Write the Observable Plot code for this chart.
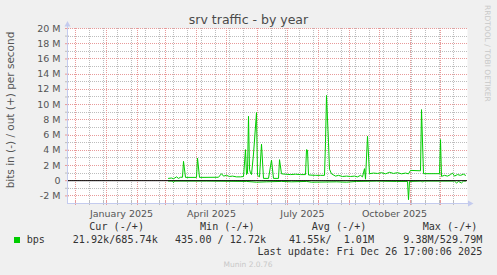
<!DOCTYPE html>
<html><head><meta charset="utf-8">
<script src="https://cdn.jsdelivr.net/npm/d3@7"></script>
<script src="https://cdn.jsdelivr.net/npm/@observablehq/plot@0.6"></script>
<style>
html,body{margin:0;padding:0;background:#f0f0f0;overflow:hidden;}
#chart{position:relative;width:497px;height:275px;}
svg text{white-space:pre;}
</style></head><body><div id="chart"></div>
<script>
// ---- data (values in millions of bits per second) ----
const outDates = ["2025-03-04","2025-03-07","2025-03-09","2025-03-12","2025-03-14","2025-03-16","2025-03-18","2025-03-19","2025-03-21",
"2025-04-01","2025-04-02","2025-04-04","2025-04-23","2025-04-26","2025-04-28","2025-05-01","2025-05-04","2025-05-07","2025-05-11",
"2025-05-15","2025-05-18","2025-05-20","2025-05-21","2025-05-22","2025-05-23","2025-05-24","2025-05-25","2025-05-26","2025-05-28","2025-05-31",
"2025-06-01","2025-06-03","2025-06-05","2025-06-07","2025-06-12","2025-06-15","2025-06-17","2025-06-22","2025-06-23","2025-06-25",
"2025-06-29","2025-07-04","2025-07-09","2025-07-14","2025-07-19","2025-07-20","2025-07-21","2025-07-22","2025-07-29","2025-08-03",
"2025-08-07","2025-08-08","2025-08-09","2025-08-11","2025-08-12","2025-08-14","2025-08-18","2025-08-21","2025-08-25","2025-08-29",
"2025-09-02","2025-09-06","2025-09-09","2025-09-12","2025-09-14","2025-09-16","2025-09-17","2025-09-19","2025-09-21","2025-09-25",
"2025-09-29","2025-10-03","2025-10-07","2025-10-11","2025-10-15","2025-10-19","2025-10-23","2025-10-27","2025-10-30","2025-11-01",
"2025-11-11","2025-11-12","2025-11-14","2025-11-30","2025-12-01","2025-12-02","2025-12-05","2025-12-08","2025-12-11","2025-12-13",
"2025-12-15","2025-12-18","2025-12-21","2025-12-24","2025-12-26"];
const outBits = [0.30,0.35,0.25,0.50,0.30,0.45,0.45,2.54,0.43,
0.43,2.97,0.43,0.45,0.92,0.60,0.70,0.55,0.60,0.50,
0.50,0.55,4.08,0.80,1.00,8.46,1.50,1.00,0.80,3.50,8.95,
0.70,0.50,4.80,0.30,0.30,2.70,0.30,0.30,2.76,0.90,
0.85,0.80,0.85,0.80,0.80,4.08,4.00,0.75,0.70,0.70,
0.70,5.00,11.20,5.00,1.50,0.90,0.60,0.70,0.55,0.60,
0.55,0.60,0.50,0.70,0.50,1.58,0.20,5.83,0.92,1.00,
0.95,1.05,0.90,1.10,0.95,1.05,0.90,1.00,0.90,1.35,
1.30,9.34,0.92,0.92,5.40,0.57,0.70,0.60,0.80,1.00,
0.60,0.80,0.70,0.85,0.70];
const inDates = ["2025-03-04","2025-03-08","2025-03-09","2025-03-10","2025-04-11","2025-05-21","2025-05-31","2025-06-10","2025-06-25",
"2025-07-05","2025-07-20","2025-07-25","2025-08-19","2025-08-29","2025-09-08","2025-09-28","2025-10-18","2025-10-29","2025-10-30",
"2025-10-31","2025-11-12","2025-11-13","2025-11-14","2025-12-15","2025-12-17","2025-12-19","2025-12-22","2025-12-24","2025-12-26"];
const inBits = [-0.05,-0.05,-0.25,-0.05,-0.05,-0.10,-0.20,-0.15,-0.10,
-0.15,-0.10,-0.20,-0.15,-0.20,-0.10,-0.05,-0.10,-0.10,-2.50,
-0.10,-0.05,-0.20,-0.05,-0.05,-0.30,-0.10,-0.30,-0.05,-0.05];
const yMajorTicks = [-2,0,2,4,6,8,10,12,14,16,18,20];
const yMinorTicks = [-1,1,3,5,7,9,11,13,15,17,19];
const xLabels = ["January 2025","April 2025","July 2025","October 2025"];
const xLabelDates = ["2025-01-16","2025-04-16","2025-07-16","2025-10-16"];
const legendHeaders = ["Cur (-/+)","Min (-/+)","Avg (-/+)","Max (-/+)"];
const legendValues = ["21.92k/685.74k","435.00 / 12.72k","41.55k/  1.01M","9.38M/529.79M"];
const seriesName = "bps";
const titleText = "srv traffic - by year";
const yLabel = "bits in (-) / out (+) per second";
const lastUpdate = "Last update: Fri Dec 26 17:00:06 2025";
const footer = "Munin 2.0.76";
const vendor = "RRDTOOL / TOBI OETIKER";

// ---- chart ----
const parse = s => new Date(s + "T00:00:00Z");
const outData = outDates.map((d, i) => ({date: parse(d), v: outBits[i]}));
const inData = inDates.map((d, i) => ({date: parse(d), v: inBits[i]}));
const x0 = parse("2024-11-23"), x1 = parse("2025-12-28");
const monthStarts = d3.utcMonth.range(parse("2024-12-01"), x1);
const minorDates = d3.utcDay.range(parse("2024-12-01"), x1, 14);
const dayMs = 86400000;
const GREEN = "#00cc00", GRID = "#bdbdbd", MGRID = "#e89a9a", AXIS = "#c4cbee";
const pxM = 23 / 175; // M per pixel
const dashV = {strokeDasharray: "1 1", shapeRendering: "crispEdges"};
const dashH = {strokeDasharray: "1 1", strokeDashoffset: 1, shapeRendering: "crispEdges"};

const svg = Plot.plot({
  width: 497, height: 275,
  marginLeft: 67, marginRight: 30, marginTop: 28, marginBottom: 72,
  style: {background: "#f0f0f0", fontFamily: "DejaVu Sans", overflow: "visible"},
  x: {type: "utc", domain: [x0, x1], axis: null},
  y: {domain: [-3, 20], axis: null},
  marks: [
    Plot.frame({fill: "white", stroke: null}),
    Plot.ruleX(minorDates, {stroke: GRID, ...dashV}),
    Plot.ruleY(yMinorTicks, {y: d => d, stroke: GRID, ...dashH}),
    Plot.ruleX(monthStarts, {stroke: MGRID, ...dashV}),
    Plot.ruleY(yMajorTicks, {y: d => d, stroke: MGRID, ...dashH}),
    // tick marks on axes
    Plot.ruleX(minorDates, {y1: -3 + 2 * pxM, y2: -3 - 2 * pxM, stroke: GRID}),
    Plot.ruleX(monthStarts, {y1: -3 + 2 * pxM, y2: -3 - 2 * pxM, stroke: MGRID}),
    Plot.ruleY(yMinorTicks, {y: d => d, x1: new Date(+x0 - 2 * dayMs), x2: new Date(+x0 + 2 * dayMs), stroke: GRID}),
    Plot.ruleY(yMajorTicks, {y: d => d, x1: new Date(+x0 - 2 * dayMs), x2: new Date(+x0 + 2 * dayMs), stroke: MGRID}),
    Plot.line(inData, {x: "date", y: "v", stroke: GREEN, strokeWidth: 1}),
    Plot.line(outData, {x: "date", y: "v", stroke: GREEN, strokeWidth: 1}),
    Plot.ruleY([0], {stroke: "#000"}),
    Plot.text(yMajorTicks, {x: x0, y: d => d, text: d => d === 0 ? "0" : `${d} M`, textAnchor: "end", dx: -7, fontSize: 9.5, fill: "#555", lineAnchor: "middle"}),
    Plot.text(xLabels, {x: (d, i) => parse(xLabelDates[i]), y: -3, text: d => d, dy: 10, fontSize: 9.5, fill: "#555", lineAnchor: "middle"})
  ]
});
document.getElementById("chart").appendChild(svg);

// ---- decorations ----
const s = d3.select(svg);
// axes with arrows
s.append("line").attr("x1", 67.5).attr("x2", 67.5).attr("y1", 203).attr("y2", 24).attr("stroke", AXIS);
s.append("path").attr("d", "M64.5,26.5 L67.5,21 L70.5,26.5 Z").attr("fill", AXIS);
s.append("line").attr("x1", 67).attr("x2", 470).attr("y1", 203.5).attr("y2", 203.5).attr("stroke", AXIS);
s.append("path").attr("d", "M468,200.5 L473.5,203.5 L468,206.5 Z").attr("fill", AXIS);
const txt = (x, y, t, o = {}) => s.append("text").attr("x", x).attr("y", y)
  .attr("text-anchor", o.anchor || "start")
  .attr("font-family", o.family || "DejaVu Sans Mono")
  .attr("font-size", o.size || 10.1)
  .attr("fill", o.fill || "#333")
  .attr("transform", o.transform || null)
  .text(t);
// title
txt(248.5, 24, titleText, {anchor: "middle", family: "DejaVu Sans", size: 12.5, fill: "#4a4a4a"});
// y label
txt(0, 0, yLabel, {anchor: "middle", family: "DejaVu Sans", size: 10.5, fill: "#555", transform: "translate(14,110) rotate(-90)"});
// vendor
txt(0, 0, vendor, {anchor: "start", family: "DejaVu Sans", size: 7.5, fill: "#c8c8c8", transform: "translate(485,5) rotate(90)"});
// legend
const headerX = [89.3, 200, 311.7, 422.7];
const valueX = [72.7, 175, 289, 403.3];
legendHeaders.forEach((t, i) => txt(headerX[i], 230, t));
s.append("rect").attr("x", 14).attr("y", 237).attr("width", 6).attr("height", 6).attr("fill", GREEN);
txt(26.7, 242.7, seriesName);
legendValues.forEach((t, i) => txt(valueX[i], 242.7, t));
txt(482.3, 255, lastUpdate, {anchor: "end"});
txt(248, 266.5, footer, {anchor: "middle", family: "DejaVu Sans", size: 7.5, fill: "#c8c8c8"});
</script>
</body></html>
